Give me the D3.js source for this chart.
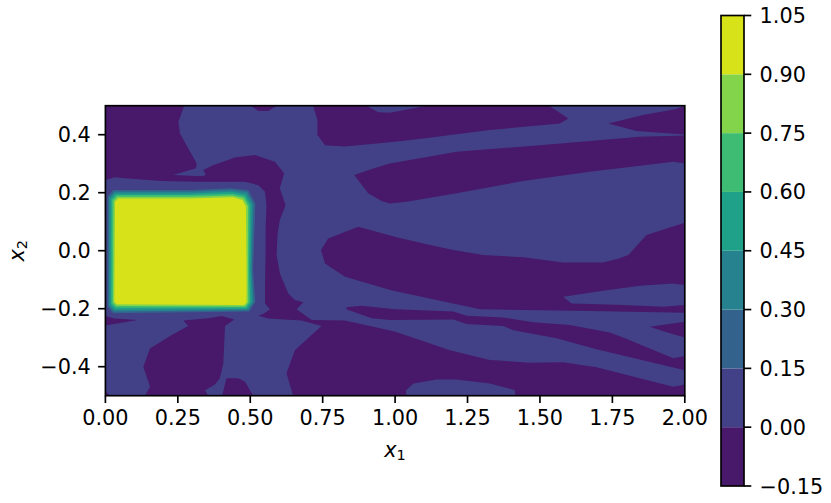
<!DOCTYPE html>
<html><head><meta charset="utf-8">
<script src="https://cdn.jsdelivr.net/npm/d3@7"></script>
<style>html,body{margin:0;background:#fff}svg{display:block}text{font-family:"DejaVu Sans";fill:#000}</style>
</head><body><svg id="c" width="831" height="503"></svg>
<script>
const x1Ticks=[0,0.25,0.5,0.75,1,1.25,1.5,1.75,2];
const x2Ticks=[-0.4,-0.2,0,0.2,0.4];
const levels=[-0.15,0,0.15,0.3,0.45,0.6,0.75,0.9,1.05];
// Regions, as [x1,x2] outlines in data units
const belowZeroMain=[[0,.5],[.272,.5],[.252,.445],[.257,.405],[.315,.301],[.313,.284],[.234,.261],[.332,.257],[.347,.261],[.338,.278],[.372,.295],[.447,.321],[.516,.33],[.585,.307],[.617,.267],[.602,.215],[.622,.157],[.602,.106],[.594,.054],[.591,-.015],[.602,-.078],[.631,-.147],[.654,-.17],[.683,-.178],[.66,-.202],[.712,-.239],[.827,-.241],[.999,-.279],[1.189,-.343],[1.327,-.377],[1.465,-.386],[1.58,-.385],[1.695,-.402],[1.787,-.425],[1.96,-.469],[2,-.461],[2,-.5],[1.414,-.5],[1.414,-.481],[1.327,-.458],[1.212,-.444],[1.143,-.444],[1.063,-.458],[1.038,-.481],[1.038,-.5],[.648,-.5],[.625,-.423],[.654,-.343],[.746,-.26],[.677,-.241],[.562,-.234],[.528,-.224],[.545,-.218],[.568,-.202],[.551,-.182],[.551,-.113],[.553,.002],[.553,.077],[.556,.157],[.551,.203],[.528,.226],[.482,.238],[.309,.238],[.194,.24],[.079,.249],[.033,.253],[0,.244]];
const belowZeroLeft=[[0,-.225],[.03,-.234],[.111,-.239],[0,-.258]];
const belowZeroLowerA=[[.269,-.241],[.355,-.233],[.401,-.225],[.445,-.237],[.413,-.26],[.407,-.389],[.395,-.44],[.378,-.461],[.344,-.481],[.355,-.5],[.137,-.5],[.154,-.469],[.131,-.4],[.154,-.337],[.229,-.291],[.286,-.26]];
const belowZeroLowerB=[[.403,-.5],[.418,-.44],[.458,-.44],[.482,-.452],[.51,-.5]];
const belowZeroCorner=[[0,-.485],[0,-.5],[.017,-.5]];
const belowZeroThin=[[.832,-.195],[.884,-.19],[.999,-.202],[1.201,-.21],[1.247,-.224],[1.373,-.23],[1.477,-.247],[1.603,-.256],[1.741,-.282],[1.787,-.299],[1.96,-.371],[2,-.363],[2,-.412],[1.695,-.34],[1.557,-.302],[1.408,-.274],[1.373,-.26],[1.247,-.253],[1.201,-.237],[.982,-.239],[.919,-.233],[.832,-.202]];
const belowZeroPocket=[[1.879,-.262],[2,-.245],[2,-.299],[1.943,-.283]];
const belowZeroMiddle=[[.744,.002],[.769,.042],[.873,.083],[.999,.048],[1.097,.025],[1.201,.002],[1.304,-.015],[1.443,-.023],[1.58,-.041],[1.718,-.041],[1.776,-.026],[1.805,-.015],[1.868,.054],[2,.096],[2,-.118],[1.96,-.113],[1.845,-.121],[1.73,-.136],[1.58,-.159],[1.609,-.182],[1.672,-.184],[1.787,-.187],[1.925,-.193],[2,-.187],[2,-.214],[1.672,-.208],[1.293,-.202],[.99,-.137],[.827,-.09],[.758,-.044]];
const belowZeroUpperBand=[[.859,.261],[.907,.198],[.953,.171],[.982,.163],[1.04,.169],[1.212,.198],[1.442,.24],[1.672,.272],[1.96,.307],[2,.301],[2,.397],[1.845,.393],[1.5,.364],[1.212,.341],[.982,.301],[.919,.282]];
const belowZeroTop=[[.717,.5],[.732,.451],[.732,.399],[.758,.364],[.827,.359],[.999,.376],[1.097,.387],[1.327,.416],[1.569,.439],[1.598,.456],[1.532,.5],[1.109,.5],[.982,.476],[.942,.477],[.901,.5]];
const belowZeroTopRight=[[1.736,.439],[1.856,.468],[1.971,.489],[2,.5],[2,.401],[1.902,.408],[1.833,.413]];
const belowZeroTopSmall=[[.502,.5],[.528,.482],[.562,.482],[.591,.5]];
const aboveLevel015=[[.007,.186],[.027,.209],[.292,.209],[.43,.215],[.493,.209],[.518,.163],[.51,-.067],[.518,-.176],[.497,-.21],[.027,-.216],[.007,-.193]];
const aboveLevel030=[[.012,.183],[.031,.203],[.292,.203],[.432,.209],[.489,.202],[.511,.161],[.505,-.067],[.512,-.177],[.493,-.205],[.029,-.21],[.012,-.19]];
const aboveLevel045=[[.017,.179],[.034,.197],[.292,.197],[.434,.203],[.485,.195],[.505,.159],[.501,-.067],[.506,-.177],[.489,-.201],[.032,-.204],[.017,-.187]];
const aboveLevel060=[[.022,.176],[.038,.192],[.292,.192],[.437,.196],[.481,.189],[.498,.156],[.496,-.067],[.499,-.178],[.486,-.196],[.034,-.197],[.021,-.182]];
const aboveLevel075=[[.028,.172],[.041,.186],[.292,.186],[.439,.19],[.477,.182],[.492,.154],[.492,-.067],[.493,-.178],[.482,-.192],[.037,-.191],[.026,-.179]];
const aboveLevel090=[[.033,.169],[.045,.18],[.292,.18],[.441,.184],[.473,.175],[.485,.152],[.487,-.067],[.487,-.179],[.478,-.187],[.039,-.185],[.031,-.176]];

const belowZero=[belowZeroMain,belowZeroLeft,belowZeroLowerA,belowZeroLowerB,belowZeroCorner,belowZeroThin,belowZeroPocket,belowZeroMiddle,belowZeroUpperBand,belowZeroTop,belowZeroTopRight,belowZeroTopSmall];
const aboveLevels=[aboveLevel015,aboveLevel030,aboveLevel045,aboveLevel060,aboveLevel075,aboveLevel090];

const fs=20.8, lw=1.67, tick=7.3, pad=7.3;
const svg=d3.select("#c");
const x=d3.scaleLinear().domain([0,2]).range([105.4,684.8]);
const y=d3.scaleLinear().domain([-.5,.5]).range([395.7,105.7]);
const cb=d3.scaleLinear().domain([-.15,1.05]).range([486,15.5]);
const band=i=>d3.interpolateViridis((i+.5)/(levels.length-1));
const line=d3.line(d=>x(d[0]),d=>y(d[1])).curve(d3.curveLinearClosed);

svg.append("clipPath").attr("id","p").append("rect")
  .attr("x",x(0)).attr("y",y(.5)).attr("width",x(2)-x(0)).attr("height",y(-.5)-y(.5));
const plot=svg.append("g").attr("clip-path","url(#p)");
plot.append("rect").attr("x",x(0)).attr("y",y(.5)).attr("width",x(2)-x(0)).attr("height",y(-.5)-y(.5)).attr("fill",band(1));
plot.selectAll(".neg").data(belowZero).join("path").attr("class","neg").attr("d",line).attr("fill",band(0));
plot.selectAll(".pos").data(aboveLevels).join("path").attr("class","pos").attr("d",line).attr("fill",(d,i)=>band(i+2));

function style(g){
  g.select(".domain").remove();
  g.selectAll(".tick line").attr("stroke","#000").attr("stroke-width",lw);
  g.selectAll(".tick text").attr("font-size",fs).attr("font-family","DejaVu Sans").attr("fill","#000");
}
svg.append("g").attr("transform",`translate(0,${y(-.5)})`)
  .call(d3.axisBottom(x).tickValues(x1Ticks).tickFormat(d3.format(".2f")).tickSize(tick).tickPadding(pad).offset(0)).call(style);
svg.append("g").attr("transform",`translate(${x(0)},0)`)
  .call(d3.axisLeft(y).tickValues(x2Ticks).tickFormat(d3.format(".1f")).tickSize(tick).tickPadding(pad).offset(0)).call(style)
  .selectAll(".tick text").attr("dy",".36em");
svg.append("rect").attr("x",x(0)).attr("y",y(.5)).attr("width",x(2)-x(0)).attr("height",y(-.5)-y(.5))
  .attr("fill","none").attr("stroke","#000").attr("stroke-width",lw);

// Colour bar
const cbX=721, cbW=23;
svg.append("g").selectAll("rect").data(d3.range(levels.length-1)).join("rect")
  .attr("x",cbX).attr("width",cbW).attr("y",i=>cb(levels[i+1])).attr("height",i=>cb(levels[i])-cb(levels[i+1])).attr("fill",band);
svg.append("g").attr("transform",`translate(${cbX+cbW},0)`)
  .call(d3.axisRight(cb).tickValues(levels).tickFormat(d3.format(".2f")).tickSize(tick).tickPadding(pad+1).offset(0)).call(style)
  .selectAll(".tick text").attr("dy",".36em");
svg.append("rect").attr("x",cbX).attr("y",cb(1.05)).attr("width",cbW).attr("height",cb(-.15)-cb(1.05))
  .attr("fill","none").attr("stroke","#000").attr("stroke-width",lw);

// Axis titles
function mathLabel(sel,name,sub){
  sel.attr("font-size",fs).attr("text-anchor","middle");
  sel.append("tspan").attr("font-style","italic").text(name);
  sel.append("tspan").attr("font-size",fs*.7).attr("dy",fs*.15).text(sub);
}
svg.append("text").attr("x",(x(0)+x(2))/2).attr("y",457).call(mathLabel,"x","1");
svg.append("text").attr("transform",`translate(24,${(y(.5)+y(-.5))/2}) rotate(-90)`).call(mathLabel,"x","2");
</script></body></html>
